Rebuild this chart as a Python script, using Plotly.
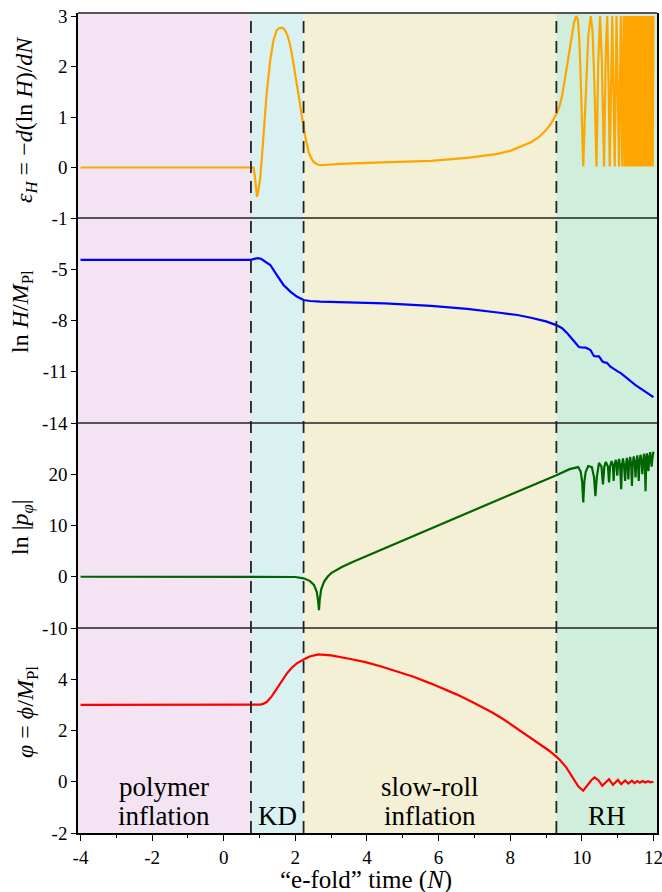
import plotly.graph_objects as go

# ---------------- data ----------------
phase_edges = [-4.07, 0.76, 2.23, 9.29, 12.1]
phase_colors = ["#F4E3F3", "#D9F1F1", "#F3F0D5", "#CFEEDB"]
phase_labels = ["polymer<br>inflation", "KD", "slow-roll<br>inflation", "RH"]

x_ticks = [-4, -2, 0, 2, 4, 6, 8, 10, 12]
x_minor = [-3, -1, 1, 3, 5, 7, 9, 11]

# panel 1: epsilon_H
N_eps = [-4, 0.76, 0.83, 0.86, 0.89, 0.93, 0.97, 1.02, 1.06, 1.11, 1.2, 1.3, 1.39, 1.48,
         1.55, 1.62, 1.69, 1.76, 1.83, 1.9, 1.97, 2.04, 2.11, 2.18, 2.27, 2.37, 2.44, 2.51,
         2.6, 2.69, 2.97, 3.25, 4.0, 5.0, 5.79, 6.8, 7.3, 7.65, 8.0, 8.3, 8.58, 8.8, 9.0,
         9.15, 9.29, 9.37, 9.45, 9.55, 9.65, 9.72, 9.78, 9.82, 9.85, 9.89, 9.93, 9.97, 10.0,
         10.04, 10.08, 10.13, 10.18, 10.25, 10.3, 10.35, 10.41, 10.46, 10.51, 10.56, 10.62,
         10.67, 10.71, 10.75, 10.78, 10.85, 10.92, 10.97, 11.04, 11.09,
         11.13, 11.17, 11.2, 11.23, 11.26, 11.29, 11.32, 11.35, 11.38, 11.41, 11.43, 11.46,
         11.48, 11.51, 11.53, 11.56, 11.58, 11.61, 11.63, 11.66, 11.68, 11.71, 11.73, 11.76,
         11.78, 11.8, 11.82, 11.84, 11.86, 11.88, 11.9, 11.92, 11.94, 11.96, 11.98, 12.0]
eps_H = [0, 0, 0, -0.12, -0.38, -0.58, -0.45, -0.2, 0.15, 0.63, 1.48, 2.13, 2.52, 2.72,
         2.76, 2.77, 2.74, 2.65, 2.5, 2.26, 1.98, 1.68, 1.35, 1.02, 0.63, 0.31, 0.19, 0.11,
         0.065, 0.045, 0.06, 0.07, 0.09, 0.11, 0.13, 0.19, 0.23, 0.27, 0.33, 0.41, 0.5, 0.6,
         0.74, 0.88, 1.06, 1.2, 1.42, 1.85, 2.3, 2.62, 2.86, 2.96, 3.0, 2.92, 2.55, 1.75, 1.0,
         0.02, 0.9, 1.9, 2.6, 3.0, 2.7, 1.7, 0.02, 2.1, 3.0, 2.1,
         0.02, 2.3, 3.0, 1.6, 0.02, 3.0, 0.02, 3.0, 0.02, 3.0,
         0.02, 3.0, 0.02, 3.0, 0.02, 3.0, 0.02, 3.0, 0.02, 3.0, 0.02, 3.0,
         0.02, 3.0, 0.02, 3.0, 0.02, 3.0, 0.02, 3.0, 0.02, 3.0, 0.02, 3.0,
         0.02, 3.0, 0.02, 3.0, 0.02, 3.0, 0.02, 3.0, 0.02, 3.0, 0.02, 3.0]

# panel 2: ln H / M_Pl
N_H = [-4, 0.76, 0.88, 0.96, 1.05, 1.15, 1.3, 1.48, 1.67, 1.86, 2.04, 2.23, 2.41, 2.7, 3.16,
       4.5, 5.79, 6.8, 7.65, 8.2, 8.58, 9.0, 9.29, 9.45, 9.6, 9.75, 9.85, 9.92, 10.0, 10.11,
       10.2, 10.25, 10.3, 10.34, 10.41, 10.48, 10.53, 10.57, 10.63, 10.7, 10.8, 10.9, 11.0,
       11.09, 11.5, 12.0]
ln_H = [-4.45, -4.45, -4.38, -4.35, -4.4, -4.55, -4.75, -5.33, -5.92, -6.31, -6.6, -6.8,
        -6.86, -6.9, -6.92, -7.0, -7.14, -7.32, -7.53, -7.68, -7.84, -8.05, -8.27, -8.45,
        -8.76, -9.12, -9.4, -9.55, -9.58, -9.59, -9.68, -9.75, -9.95, -10.08, -10.1, -10.1,
        -10.25, -10.39, -10.45, -10.47, -10.7, -10.86, -10.98, -11.08, -11.78, -12.49]

# panel 3: ln |p_phi|
N_p = [-4, 0.76, 1.5, 2.0, 2.23, 2.4, 2.52, 2.6, 2.64, 2.66, 2.68, 2.72, 2.8, 2.9, 3.0,
       3.15, 3.3, 3.6, 4.0, 5.0, 6.0, 7.0, 8.0, 9.29, 9.66, 9.9, 9.97, 10.01, 10.04, 10.07,
       10.11, 10.18, 10.28, 10.34, 10.38, 10.42, 10.48, 10.55, 10.59, 10.63, 10.67, 10.73,
       10.76, 10.79, 10.83, 10.87, 10.89, 10.91, 10.95, 10.97, 10.99, 11.01, 11.04, 11.07,
       11.1, 11.12, 11.15, 11.18, 11.21, 11.23, 11.26, 11.28, 11.3, 11.32, 11.35, 11.38,
       11.4, 11.42, 11.45, 11.48, 11.5, 11.52, 11.55, 11.57, 11.59, 11.61, 11.64, 11.67,
       11.69, 11.71, 11.74, 11.76, 11.78, 11.8, 11.82, 11.84, 11.86, 11.88, 11.91, 11.93,
       11.95, 11.97, 11.99, 12.0]
ln_p = [0, 0, 0, -0.05, -0.3, -0.8, -1.6, -3.0, -5.0, -6.5, -4.5, -2.5, -1.0, 0.0, 0.7,
        1.35, 1.9, 2.9, 4.1, 7.1, 10.0, 13.0, 16.0, 19.8, 21.0, 21.4, 20.5, 18.5, 14.5,
        18.5, 20.5, 21.6, 21.4, 19.5, 15.7, 19.5, 22.2, 21.5, 18.0, 21.5, 22.4, 21.5,
        18.4, 21.5, 22.6, 21.5, 18.7, 21.8, 22.8, 21.6, 19.7, 21.8, 23.0, 21.5,
        17.1, 21.8, 23.1, 21.6, 18.7, 21.8, 23.2, 21.7, 19.0, 21.9, 23.4, 21.8,
        17.7, 22.0, 23.5, 22.0, 19.4, 22.1, 23.7, 22.1, 18.7, 22.2, 23.8, 22.3,
        20.0, 22.4, 24.0, 22.5, 16.7, 22.6, 24.1, 22.7, 20.6, 22.8, 24.3, 22.9,
        21.5, 23.0, 24.3, 24.4]

# panel 4: varphi = phi / M_Pl
N_phi = [-4, 0.76, 0.94, 1.02, 1.1, 1.2, 1.34, 1.48, 1.62, 1.76, 1.9, 2.04, 2.23, 2.4,
         2.64, 3.0, 3.5, 3.93, 4.4, 4.8, 5.3, 5.79, 6.2, 6.5, 6.9, 7.18, 7.5, 7.8, 8.11,
         8.45, 8.76, 9.05, 9.29, 9.39, 9.57, 9.76, 9.9, 10.04, 10.18, 10.27, 10.36, 10.47,
         10.57, 10.67, 10.76, 10.87, 11.01, 11.1, 11.21, 11.3, 11.4, 11.47, 11.55, 11.62,
         11.7, 11.77, 11.85, 11.92, 12.0]
phi = [3.0, 3.0, 3.0, 3.01, 3.04, 3.11, 3.33, 3.63, 3.94, 4.22, 4.45, 4.62, 4.77, 4.89,
       4.97, 4.93, 4.8, 4.68, 4.5, 4.33, 4.1, 3.83, 3.6, 3.41, 3.14, 2.94, 2.7, 2.45, 2.16,
       1.83, 1.54, 1.25, 0.98, 0.85, 0.55, 0.12, -0.18, -0.35, -0.09, 0.07, 0.17, 0.05,
       -0.16, -0.03, 0.1, -0.12, 0.07, -0.09, 0.05, -0.07, 0.04, -0.05, 0.03, -0.04, 0.03,
       -0.03, 0.02, -0.02, 0.0]

eps_ticks = [-1, 0, 1, 2, 3]
lnH_ticks = [-14, -11, -8, -5]
lnp_ticks = [-10, 0, 10, 20]
phi_ticks = [-2, 0, 2, 4]

# ---------------- figure ----------------
FONT = "Liberation Serif"
panels = [
    # (x, y, color, axis name, range, ticks, title, title centre px)
    (N_phi, phi, "#FF0000", "y", [-2, 6], phi_ticks,
     "<i>φ</i> = <i>ϕ</i>/<i>M</i><sub>Pl</sub>", 27, 712),
    (N_p, ln_p, "#006400", "y2", [-10, 30], lnp_ticks,
     "ln |<i>p</i><sub><i>φ</i></sub>|", 22, 527),
    (N_H, ln_H, "#0000FF", "y3", [-14, -2], lnH_ticks,
     "ln <i>H</i>/<i>M</i><sub>Pl</sub>", 22, 312),
    (N_eps, eps_H, "#FFA500", "y4", [-1, 3.06], eps_ticks,
     "<i>ε</i><sub><i>H</i></sub> = −<i>d</i>(ln <i>H</i>)/<i>dN</i>", 26, 120),
]

L, R, T, B = 78, 5, 13, 59
W, H = 662, 892
plot_h = H - T - B

fig = go.Figure()
layout_axes = {}
annotations = []
for i, (xs, ys, col, ax, rng, tks, title, tx, ty) in enumerate(panels):
    fig.add_trace(go.Scatter(x=xs, y=ys, mode="lines", xaxis="x", yaxis=ax,
                             line=dict(color=col, width=2.2), showlegend=False,
                             hoverinfo="skip"))
    key = "yaxis" if ax == "y" else "yaxis" + ax[1:]
    layout_axes[key] = dict(
        domain=[i * 0.25, (i + 1) * 0.25], anchor="x", range=rng, automargin=False,
        tickvals=tks, ticktext=[str(v) for v in tks],
        ticks="outside", ticklen=5, tickwidth=1.3, tickcolor="black",
        showline=True, linecolor="black", linewidth=1.5, mirror=True,
        showgrid=False, zeroline=False,
        tickfont=dict(family=FONT, size=19, color="black"),
    )
    annotations.append(dict(
        text=title, textangle=-90, xref="paper", yref="paper",
        x=0, xshift=tx - L, y=1 - (ty - T) / plot_h,
        xanchor="center", yanchor="middle", showarrow=False,
        font=dict(family=FONT, size=24, color="black")))

shapes = []
for k in range(4):
    shapes.append(dict(type="rect", xref="x", yref="paper",
                       x0=phase_edges[k], x1=phase_edges[k + 1], y0=0, y1=1,
                       fillcolor=phase_colors[k], line=dict(width=0), layer="below"))
for e in phase_edges[1:-1]:
    shapes.append(dict(type="line", xref="x", yref="paper", x0=e, x1=e, y0=0, y1=1,
                       line=dict(color="#222222", width=1.8, dash="12px,8px"),
                       layer="above"))
for yb in [0.25, 0.5, 0.75, 1.0]:
    shapes.append(dict(type="line", xref="paper", yref="paper", x0=0, x1=1, y0=yb, y1=yb,
                       line=dict(color="#222222", width=1.5), layer="above"))

# phase labels in the bottom panel
for k, lab in enumerate(phase_labels):
    xc = 0.5 * (phase_edges[k] + phase_edges[k + 1])
    lines = lab.split("<br>")
    for j, ln in enumerate(lines):
        annotations.append(dict(
            text=ln, xref="x", yref="y", x=xc, y=-2, xanchor="center", yanchor="bottom",
            yshift=(len(lines) - 1 - j) * 29, showarrow=False,
            font=dict(family=FONT, size=27, color="black")))

# x axis title
annotations.append(dict(
    text="“e-fold” time (<i>N</i>)", xref="paper", yref="paper", x=0.5, y=0,
    xanchor="center", yanchor="middle", yshift=-(880 - (H - B)), xshift=-2,
    showarrow=False, font=dict(family=FONT, size=25, color="black")))

fig.update_layout(
    width=W, height=H,
    margin=dict(l=L, r=R, t=T, b=B, autoexpand=False),
    paper_bgcolor="white", plot_bgcolor="rgba(0,0,0,0)",
    xaxis=dict(domain=[0, 1], anchor="y", range=[phase_edges[0], phase_edges[-1]],
               automargin=False, ticklabeloverflow="allow",
               tickvals=x_ticks, ticktext=[str(v) for v in x_ticks],
               ticks="outside", ticklen=6, tickwidth=1.3, tickcolor="black",
               minor=dict(tickvals=x_minor, ticks="outside", ticklen=3,
                          tickwidth=1.2, tickcolor="black"),
               showline=True, linecolor="black", linewidth=1.5, mirror=False,
               showgrid=False, zeroline=False,
               tickfont=dict(family=FONT, size=19, color="black")),
    shapes=shapes, annotations=annotations,
    **layout_axes,
)

fig.write_html("out.html", config={"displayModeBar": False},
               post_script="document.body.style.margin='0';"
                           "document.body.style.overflow='hidden';")
